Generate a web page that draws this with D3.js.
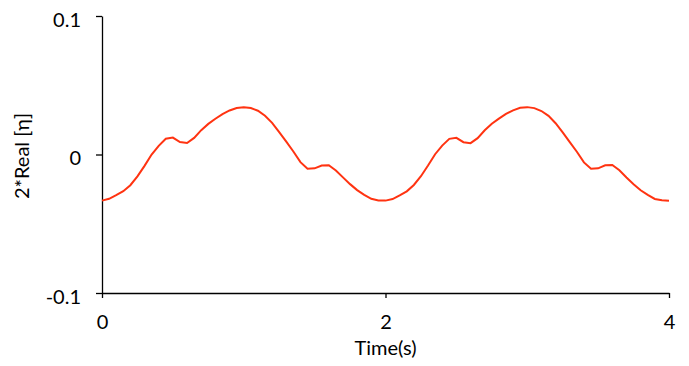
<!DOCTYPE html>
<html>
<head>
<meta charset="utf-8">
<script src="https://cdn.jsdelivr.net/npm/d3@7"></script>
<style>
  body { margin: 0; background: #fff; }
  svg text { font-family: Lato, "Open Sans", sans-serif; fill: #000; }
</style>
</head>
<body>
<div id="chart"></div>
<script>
const width = 689
const height = 366
const margin = { top: 16, right: 20, bottom: 73, left: 102 }

// time axis, one sample every 0.05 s
const times = d3.range(0, 81).map(i => +(i * 0.05).toFixed(2))
// 2*Real[eta]
const values = [
  -0.0333, -0.0320, -0.0294, -0.0265, -0.0222, -0.0158, -0.0082, 0.0000, 0.0062, 0.0114,
  0.0122, 0.0090, 0.0083, 0.0120, 0.0176, 0.0221, 0.0258, 0.0292, 0.0318, 0.0336,
  0.0341, 0.0336, 0.0316, 0.0280, 0.0228, 0.0162, 0.0093, 0.0022, -0.0055, -0.0102,
  -0.0100, -0.0080, -0.0077, -0.0115, -0.0165, -0.0214, -0.0257, -0.0291, -0.0320, -0.0332,
  -0.0333, -0.0322, -0.0295, -0.0266, -0.0220, -0.0157, -0.0080, 0.0002, 0.0064, 0.0113,
  0.0120, 0.0089, 0.0082, 0.0118, 0.0175, 0.0222, 0.0259, 0.0293, 0.0319, 0.0337,
  0.0342, 0.0335, 0.0314, 0.0279, 0.0226, 0.0160, 0.0090, 0.0020, -0.0057, -0.0103,
  -0.0100, -0.0078, -0.0076, -0.0114, -0.0166, -0.0215, -0.0258, -0.0292, -0.0321, -0.0331,
  -0.0334
]
const xTicks = [0, 2, 4]
const yTicks = [-0.1, 0, 0.1]
const yTickLabels = ['-0.1', '0', '0.1']

const svg = d3.select('#chart').append('svg')
  .attr('width', width).attr('height', height)

const g = svg.append('g').attr('transform', `translate(${margin.left},${margin.top})`)
const innerW = 669 - margin.left
const innerH = 293 - margin.top

const x = d3.scaleLinear().domain([0, 4]).range([0, innerW])
const y = d3.scaleLinear().domain([-0.1, 0.1]).range([innerH, 0])

// x axis sits on the bottom (-0.1)
const xAxis = g.append('g')
  .attr('transform', `translate(0,${innerH})`)
  .call(d3.axisBottom(x).tickValues(xTicks).tickFormat(d3.format('d')).tickSize(5).tickSizeOuter(0))
xAxis.selectAll('text').attr('dy', 0).attr('y', 35.5).style('font-size', '20px')

const yAxis = g.append('g')
  .call(d3.axisLeft(y).tickValues(yTicks).tickFormat((d, i) => yTickLabels[i]).tickSize(6).tickSizeOuter(0))
yAxis.selectAll('text').attr('dy', 0).attr('y', 10).attr('x', -21).style('font-size', '20px')

svg.selectAll('.domain, .tick line').attr('stroke', '#000').attr('stroke-width', 1.3)

const line = d3.line()
  .x((d, i) => x(times[i]))
  .y(d => y(d))

g.append('path')
  .datum(values)
  .attr('fill', 'none')
  .attr('stroke', '#ff3311')
  .attr('stroke-width', 2)
  .attr('d', line)

svg.append('text')
  .attr('x', margin.left + innerW / 2).attr('y', 355)
  .attr('text-anchor', 'middle').style('font-size', '20px')
  .text('Time(s)')

svg.append('text')
  .attr('transform', 'translate(29,156) rotate(-90)')
  .attr('text-anchor', 'middle').style('font-size', '20px')
  .text('2*Real [η]')
</script>
</body>
</html>
